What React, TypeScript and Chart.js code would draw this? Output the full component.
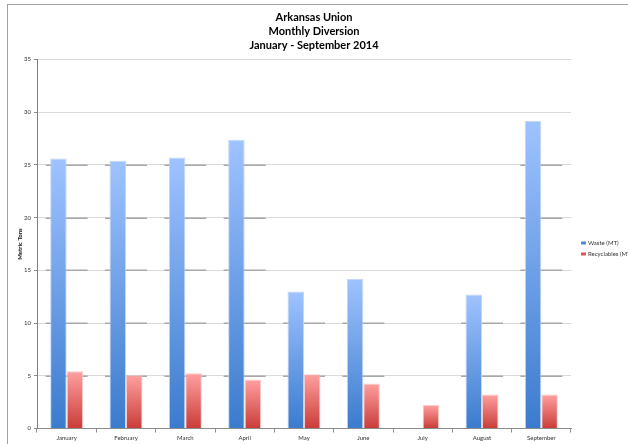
import React, { useEffect, useRef } from "react";
import { Chart, registerables } from "chart.js";

Chart.register(...registerables);

const titleLines = ["Arkansas Union", "Monthly Diversion", "January - September 2014"];
const months = ["January", "February", "March", "April", "May", "June", "July", "August", "September"];
const wasteMT = [25.6, 25.4, 25.7, 27.4, 13.0, 14.2, 0, 12.7, 29.2];
const recyclablesMT = [5.42, 5.05, 5.23, 4.65, 5.14, 4.28, 2.22, 3.23, 3.23];
const seriesLabels = ["Waste (MT)", "Recyclables (MT)"];
const yTitle = "Metric Tons";

const FONT = "Lato, 'Liberation Sans', sans-serif";

function gradFill(top: string, bottom: string, fallback: string) {
  return (ctx: any) => {
    const chart = ctx.chart;
    if (!chart.chartArea || ctx.type !== "data") return fallback;
    const y = chart.scales.y;
    const v = typeof ctx.raw === "number" ? ctx.raw : 0;
    const y0 = y.getPixelForValue(v);
    const y1 = y.getPixelForValue(0);
    if (y1 - y0 < 0.5) return fallback;
    const g = chart.ctx.createLinearGradient(0, y0, 0, y1);
    g.addColorStop(0, top);
    g.addColorStop(1, bottom);
    return g;
  };
}

const gridSegments = {
  id: "gridSegments",
  beforeDatasetsDraw(chart: any) {
    const { ctx, scales } = chart;
    const x = scales.x;
    const y = scales.y;
    const half = 21;
    ctx.save();
    ctx.strokeStyle = "#a8a8a8";
    ctx.lineWidth = 1.5;
    months.forEach((_, i) => {
      const cx = x.getPixelForValue(i);
      const m = Math.max(wasteMT[i], recyclablesMT[i]);
      for (let t = 5; t < 35; t += 5) {
        if (m >= t) {
          const py = Math.round(y.getPixelForValue(t)) + 0.25;
          ctx.beginPath();
          ctx.moveTo(cx - half, py);
          ctx.lineTo(cx + half, py);
          ctx.stroke();
        }
      }
    });
    ctx.restore();
  },
};

const sideLegend = {
  id: "sideLegend",
  afterDraw(chart: any) {
    const { ctx, chartArea } = chart;
    const x0 = chartArea.right + 10;
    const midY = (chartArea.top + chartArea.bottom) / 2;
    const items = [
      { label: seriesLabels[0], color: "#4f88d8" },
      { label: seriesLabels[1], color: "#e05555" },
    ];
    ctx.save();
    ctx.font = `6px ${FONT}`;
    ctx.textBaseline = "middle";
    items.forEach((it, k) => {
      const cy = midY - 1 + k * 11;
      ctx.fillStyle = it.color;
      ctx.fillRect(x0, cy - 1.5, 5, 3);
      ctx.fillStyle = "#333";
      ctx.fillText(it.label, x0 + 7, cy);
    });
    ctx.restore();
  },
};

export default function App() {
  const ref = useRef<HTMLCanvasElement | null>(null);

  useEffect(() => {
    if (!ref.current) return;
    const chart = new Chart(ref.current, {
      type: "bar",
      data: {
        labels: months,
        datasets: [
          {
            label: seriesLabels[0],
            data: wasteMT,
            backgroundColor: gradFill("#9fc3ff", "#3b7bcd", "#5a90dc"),
            borderColor: "rgba(190,210,240,0.9)",
            borderWidth: (c: any) => (c.raw ? 1 : 0),
            borderSkipped: "bottom",
            categoryPercentage: 0.556,
            barPercentage: 1,
          },
          {
            label: seriesLabels[1],
            data: recyclablesMT,
            backgroundColor: gradFill("#ffa0a0", "#c93c38", "#e56060"),
            borderColor: "rgba(245,200,200,0.9)",
            borderWidth: (c: any) => (c.raw ? 1 : 0),
            borderSkipped: "bottom",
            categoryPercentage: 0.556,
            barPercentage: 1,
          },
        ],
      },
      options: {
        animation: false,
        responsive: true,
        maintainAspectRatio: false,
        layout: { padding: 0 },
        plugins: {
          legend: { display: false },
          tooltip: { enabled: false },
          title: {
            display: true,
            text: titleLines,
            color: "#000",
            font: { family: FONT, size: 11, weight: "bold", lineHeight: 14 / 11 },
            padding: { top: 10, bottom: 7.5 },
          },
        },
        scales: {
          x: {
            grid: { drawOnChartArea: false, offset: true, tickLength: 4, color: "#8c8c8c" },
            border: { color: "#8c8c8c" },
            ticks: {
              font: { family: FONT, size: 6 },
              color: "#333",
              padding: 2,
              maxRotation: 0,
              autoSkip: false,
            },
            afterFit: (s: any) => {
              s.height = 15.5;
            },
          },
          y: {
            min: 0,
            max: 35,
            ticks: { stepSize: 5, font: { family: FONT, size: 6 }, color: "#333", padding: 3 },
            grid: { color: "#d9d9d9", tickLength: 3, tickColor: "#8c8c8c" },
            border: { color: "#7f7f7f" },
            title: {
              display: true,
              text: yTitle,
              color: "#111",
              font: { family: FONT, size: 6, weight: "bold" },
              padding: { top: 16, bottom: 0 },
            },
            afterFit: (s: any) => {
              s.width = 37;
            },
          },
          spacer: {
            type: "linear",
            position: "right",
            display: true,
            grid: { display: false, drawTicks: false },
            border: { display: false },
            ticks: { display: false },
            afterFit: (s: any) => {
              s.width = 57;
            },
          },
        },
      },
      plugins: [gridSegments, sideLegend],
    });
    return () => chart.destroy();
  }, []);

  return (
    <div
      style={{
        position: "absolute",
        left: 0,
        top: 0,
        width: 628,
        height: 444,
        overflow: "hidden",
        background: "#fff",
      }}
    >
      <div
        style={{
          position: "absolute",
          left: 7,
          top: 4,
          width: 700,
          height: 500,
          borderLeft: "1px solid #a0a0a0",
          borderTop: "1px solid #a0a0a0",
        }}
      />
      <div style={{ position: "absolute", left: 0, top: 0, width: 628, height: 444 }}>
        <canvas ref={ref} />
      </div>
    </div>
  );
}
